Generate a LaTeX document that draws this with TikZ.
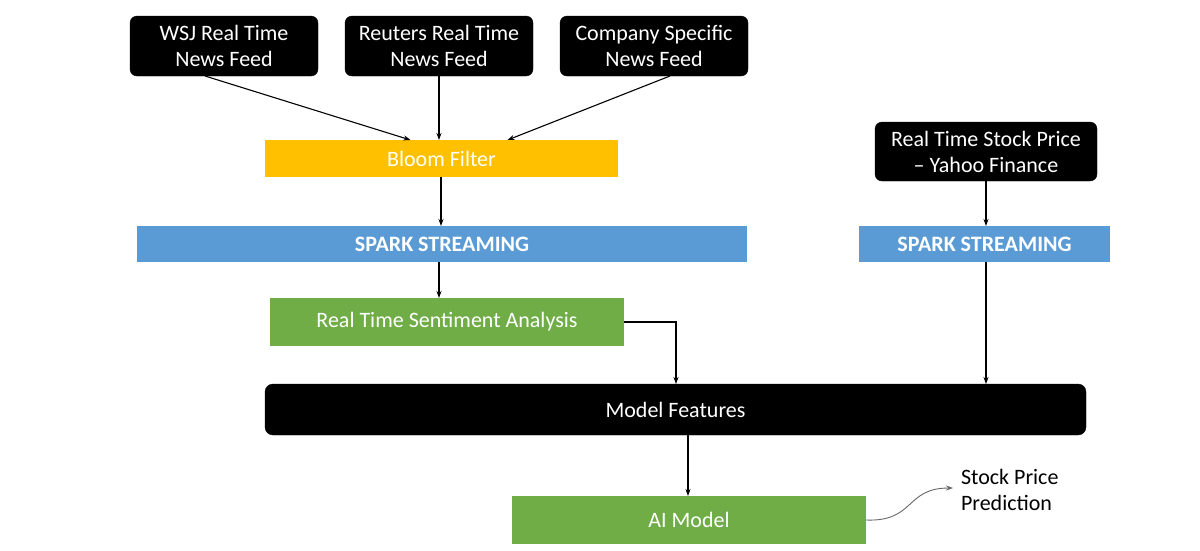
\documentclass[tikz,border=0pt]{standalone}
\usepackage{fontspec}
\setmainfont{Carlito}
\usetikzlibrary{arrows.meta}
\definecolor{bloomY}{HTML}{FFC000}
\definecolor{sparkB}{HTML}{5B9BD5}
\definecolor{greenG}{HTML}{70AD47}
\begin{document}
\begin{tikzpicture}[x=1pt,y=-1pt,
  every node/.style={inner sep=0pt,outer sep=0pt,font=\fontsize{22}{26}\selectfont},
  blackbox/.style={draw=black,fill=black,rounded corners=7pt,text=white,align=center,minimum height=60pt,minimum width=188pt},
  flatbox/.style={draw=none,text=white,align=center},
  arr/.style={-{Stealth[length=7pt,width=5pt]},line width=1.1pt},
]
\useasboundingbox (0,0) rectangle (1200,550);
\node[blackbox] (wsj) at (224,46) {WSJ Real Time\\News Feed};
\node[blackbox] (reu) at (439,46) {Reuters Real Time\\News Feed};
\node[blackbox] (comp) at (654,46) {Company Specific\\News Feed};
\node[flatbox,fill=bloomY,minimum width=353pt,minimum height=37pt] (bloom) at (441.5,158.5) {Bloom Filter};
\node[flatbox,fill=sparkB,minimum width=610pt,minimum height=36pt,font=\fontsize{22}{26}\selectfont\bfseries] (spark1) at (442,244) {SPARK STREAMING};
\node[blackbox,minimum width=222pt,minimum height=59pt] (stock) at (986,151.5) {Real Time Stock Price\\– Yahoo Finance};
\node[flatbox,fill=sparkB,minimum width=251pt,minimum height=36pt,font=\fontsize{22}{26}\selectfont\bfseries] (spark2) at (984.5,244) {SPARK STREAMING};
\node[flatbox,fill=greenG,minimum width=354pt,minimum height=48pt] (senti) at (447,322) {Real Time Sentiment Analysis};
\node[blackbox,minimum width=821pt,minimum height=51pt,rounded corners=8pt] (feat) at (675.5,409.5) {Model Features};
\node[flatbox,fill=greenG,minimum width=354pt,minimum height=48pt] (ai) at (689,520) {AI Model};
\node[align=left,anchor=west] (pred) at (961,490) {Stock Price\\Prediction};
\coordinate (predin) at (953,488);

\draw[arr] ([xshift=-19pt]wsj.south) -- ([xshift=-31pt]bloom.north);
\draw[arr] (reu.south) -- (reu.south |- bloom.north);
\draw[arr] ([xshift=16pt]comp.south) -- ([xshift=66pt]bloom.north);
\draw[arr] (bloom.south -| 441,0) -- (spark1.north -| 441,0);
\draw[arr] (spark1.south -| 439,0) -- (senti.north -| 439,0);
\draw[arr] (senti.east) -| (feat.north -| 676,0);
\draw[arr] (stock.south) -- (stock.south |- spark2.north);
\draw[arr] (spark2.south -| 986,0) -- (feat.north -| 986,0);
\draw[arr] (feat.south -| 688,0) -- (ai.north -| 688,0);
\draw[-{Stealth[length=7pt,width=5pt]},line width=0.9pt,draw=gray!80!black] (ai.east) .. controls (915,522) and (905,488) .. (predin);
\end{tikzpicture}
\end{document}
